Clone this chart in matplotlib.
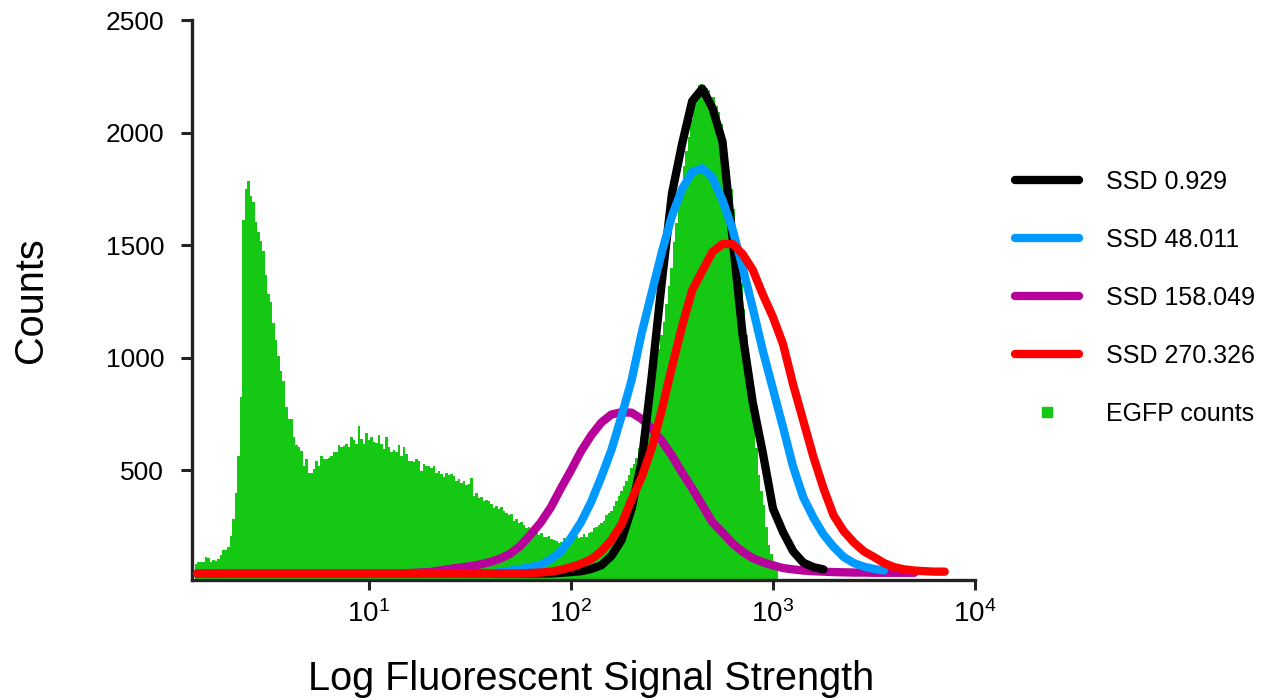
import numpy as np
import matplotlib.pyplot as plt
from matplotlib.lines import Line2D
from matplotlib.ticker import FixedLocator, FixedFormatter, NullLocator

plt.rcParams['font.family'] = ['Liberation Sans', 'DejaVu Sans']
plt.rcParams['mathtext.default'] = 'regular'

# EGFP histogram: channels evenly spaced in log10(signal), counts per channel
channel_start = 0.1386   # log10 of the left edge of the first channel
channel_step = 0.01238   # log10 width of one channel
egfp_counts = [
    85, 93, 93, 93, 115, 112, 93, 102, 97, 106, 124, 146, 146, 160,
    208, 283, 398, 562, 827, 1610, 1750, 1783, 1717, 1690,
    1602, 1558, 1520, 1473, 1367, 1283, 1248, 1155, 1080, 1010,
    942, 898, 783, 730, 730, 650, 611, 602, 588, 518,
    549, 487, 490, 505, 540, 518, 562, 549, 549, 555,
    562, 580, 580, 611, 602, 610, 615, 602, 646, 633,
    615, 699, 640, 615, 664, 633, 646, 624, 620, 655,
    615, 593, 646, 602, 580, 590, 580, 611, 562, 602,
    571, 540, 540, 535, 549, 540, 496, 527, 518, 520,
    509, 520, 487, 495, 485, 470, 490, 480, 485, 473,
    451, 460, 445, 451, 434, 440, 465, 385, 400, 376,
    380, 363, 370, 365, 350, 332, 340, 327, 335, 319,
    310, 301, 305, 274, 285, 265, 270, 258, 243, 250,
    236, 230, 235, 212, 220, 205, 203, 210, 195, 190,
    185, 177, 182, 199, 195, 212, 205, 199, 210, 199,
    206, 215, 206, 221, 225, 243, 250, 257, 265, 274,
    301, 310, 319, 340, 363, 385, 407, 430, 451, 480,
    509, 530, 553, 600, 650, 717, 790, 863, 880, 930,
    996, 1040, 1100, 1159, 1240, 1319, 1400, 1513, 1600, 1690,
    1770, 1850, 1920, 1982, 2060, 2133, 2180, 2212, 2215, 2210,
    2200, 2190, 2159, 2159, 2120, 2093, 2040, 1982, 1910, 1836,
    1750, 1659, 1560, 1451, 1330, 1217, 1100, 982, 850, 717,
    600, 478, 410, 345, 250, 168, 130, 97, 70,
]

# fitted curves, sampled every 0.05 in log10(signal) starting at 0.15
curve_start = 0.15
curve_step = 0.05
ssd_0929 = [
    42, 42, 42, 42, 42, 42, 42, 42, 42, 42, 42, 42, 42, 42, 42, 42, 42, 42,
    42, 42, 42, 42, 42, 42, 42, 42, 42, 42, 42, 42, 42, 42, 42, 42, 42, 42,
    45, 48, 52, 62, 78, 120, 190, 330, 540, 920, 1340, 1730, 1950, 2140,
    2195, 2110, 1960, 1530, 1100, 800, 576, 330, 225, 140, 90, 70, 60,
]
ssd_48011 = [
    42, 42, 42, 42, 42, 42, 42, 42, 42, 42, 42, 42, 42, 42, 42,
    42, 42, 42, 42, 42, 42, 42, 42, 42, 42, 42, 42, 42, 42, 42,
    48, 55, 62, 70, 80, 105, 140, 200, 270, 360, 470, 590, 740, 900,
    1110, 1290, 1470, 1630, 1750, 1825, 1842, 1800, 1700, 1570, 1400,
    1220, 1030, 860, 690, 515, 380, 290, 215, 160, 115, 88, 72, 62, 55,
]
ssd_158049 = [
    42, 42, 42, 42, 42, 42, 42, 42, 42, 42, 42, 42, 42, 42, 42, 42, 42, 42,
    42, 42, 42,
    44, 46, 48, 55, 62, 68, 74, 82, 93, 108, 130, 165, 215, 268, 335, 420,
    500, 585, 655, 712, 748, 758, 756, 728, 685, 630, 565, 490, 420, 345,
    270, 224, 175, 138, 110, 92, 78, 66, 60, 55, 52, 50, 48, 47, 46, 46,
    45, 45, 45, 45, 45,
]
ssd_270326 = [
    42, 42, 42, 42, 42, 42, 42, 42, 42, 42, 42, 42, 42, 42, 42, 42, 42,
    42, 42, 42, 42, 42, 42, 42, 42, 42, 42, 42, 42, 42, 42, 42, 42,
    44, 46, 50, 58, 70, 85, 105, 140, 190, 260, 370, 470, 600, 770, 960,
    1140, 1300, 1385, 1470, 1505, 1505, 1460, 1390, 1280, 1180, 1060, 880,
    720, 560, 420, 300, 230, 180, 140, 115, 88, 70, 60, 55, 52, 50, 50,
]

curve_labels = ['SSD 0.929', 'SSD 48.011', 'SSD 158.049', 'SSD 270.326']
curve_colors = ['#000000', '#0099FF', '#B8009A', '#FF0000']
curve_order = [3, 4, 2, 5]
green = '#14C814'
axis_color = '#222222'

fig = plt.figure(figsize=(12.74, 7.0), dpi=100)
ax = fig.add_axes([0.1507, 0.1721, 0.6146, 0.7993])

edges = 10 ** (channel_start + channel_step * np.arange(len(egfp_counts) + 1))
ax.bar(edges[:-1], egfp_counts, width=np.diff(edges), align='edge',
       color=green, linewidth=0, zorder=1)

grid = 10 ** (curve_start + curve_step * np.arange(80))
handles = []
for vals, color, label, z in zip([ssd_0929, ssd_48011, ssd_158049, ssd_270326],
                                 curve_colors, curve_labels, curve_order):
    line, = ax.plot(grid[:len(vals)], vals, color=color, lw=6,
                    solid_capstyle='round', solid_joinstyle='round',
                    label=label, zorder=z)
    handles.append(line)
handles.append(Line2D([], [], ls='none', marker='s', markersize=7,
                      markerfacecolor=green, markeredgecolor=green))
labels = curve_labels + ['EGFP counts']

ax.set_xscale('log')
ax.set_xlim(1.33, 1e4)
ax.set_ylim(15, 2500)

for side in ['top', 'right']:
    ax.spines[side].set_visible(False)
for side in ['left', 'bottom']:
    ax.spines[side].set_linewidth(2.4)
    ax.spines[side].set_color(axis_color)

ax.xaxis.set_major_locator(FixedLocator([10, 100, 1000, 10000]))
ax.xaxis.set_major_formatter(FixedFormatter(['$10^{1}$', '$10^{2}$', '$10^{3}$', '$10^{4}$']))
ax.xaxis.set_minor_locator(NullLocator())
ax.set_yticks([500, 1000, 1500, 2000, 2500])

ax.tick_params(axis='both', direction='out', width=2.2, color=axis_color, labelsize=19)
ax.tick_params(axis='y', length=8, pad=12)
ax.tick_params(axis='x', length=7, pad=8, labelsize=20)

ax.set_xlabel('Log Fluorescent Signal Strength', fontsize=28.5)
ax.xaxis.set_label_coords(0.51, -0.144)
ax.set_ylabel('Counts', fontsize=28.5)
ax.yaxis.set_label_coords(-0.181, 0.5)

fig.legend(handles, labels, loc='upper left', bbox_to_anchor=(0.797, 0.757),
           frameon=False, fontsize=18, handlelength=2.56, handletextpad=1.06,
           labelspacing=1.36, borderpad=0, borderaxespad=0)

fig.savefig('out.png', dpi=100)
